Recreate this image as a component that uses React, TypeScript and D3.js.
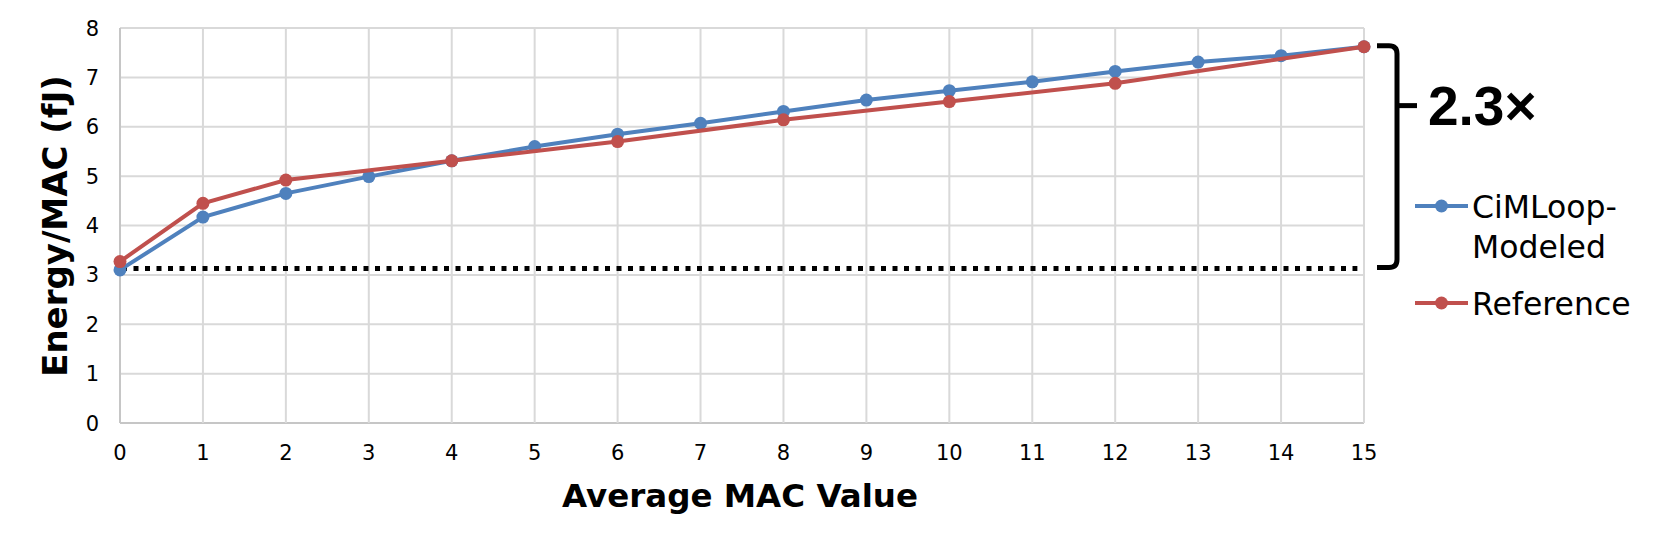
import React from "react";
import * as d3 from "d3";

const xTicks = [0, 1, 2, 3, 4, 5, 6, 7, 8, 9, 10, 11, 12, 13, 14, 15];
const yTicks = [0, 1, 2, 3, 4, 5, 6, 7, 8];

const cimloopX = [0, 1, 2, 3, 4, 5, 6, 7, 8, 9, 10, 11, 12, 13, 14, 15];
const cimloopY = [3.1, 4.17, 4.65, 4.99, 5.31, 5.6, 5.85, 6.07, 6.31, 6.54, 6.73, 6.91, 7.12, 7.31, 7.44, 7.62];

const referenceX = [0, 1, 2, 4, 6, 8, 10, 12, 15];
const referenceY = [3.27, 4.45, 4.92, 5.31, 5.7, 6.14, 6.51, 6.88, 7.62];

const baselineValue = 3.13;
const baselineSpan = [0, 14.92];
const ratioLabel = "2.3×";

const BLUE = "#4f81bd";
const RED = "#c0504d";
const FONT = "'DejaVu Sans', sans-serif";

export default function App() {
  const W = 1660;
  const H = 552;
  const x = d3.scaleLinear().domain([0, 15]).range([120, 1364]);
  const y = d3.scaleLinear().domain([0, 8]).range([423, 28]);

  const line = d3
    .line<[number, number]>()
    .x((d) => x(d[0]))
    .y((d) => y(d[1]));

  const blue: [number, number][] = cimloopX.map((v, i) => [v, cimloopY[i]]);
  const red: [number, number][] = referenceX.map((v, i) => [v, referenceY[i]]);

  const topY = y(d3.max(cimloopY) as number) - 1;
  const botY = y(baselineValue) - 1;
  const midY = topY + (botY - topY) * 0.27;
  const bracket = `M1377,${topY} L1389,${topY} Q1397,${topY} 1397,${topY + 8} L1397,${botY - 8} Q1397,${botY} 1389,${botY} L1377,${botY}`;
  const stub = `M1397,${midY} L1417,${midY}`;

  return (
    <svg
      width={W}
      height={H}
      style={{ position: "absolute", left: 0, top: 0, background: "#fff" }}
      fontFamily={FONT}
    >
      {/* grid */}
      {yTicks.map((t) => (
        <line key={"gy" + t} x1={x(0)} x2={x(15)} y1={y(t)} y2={y(t)} stroke={t === 0 ? "#c6c6c6" : "#d9d9d9"} strokeWidth={2} />
      ))}
      {xTicks.map((t) => (
        <line key={"gx" + t} x1={x(t)} x2={x(t)} y1={y(0)} y2={y(8)} stroke={t === 0 ? "#c6c6c6" : "#d9d9d9"} strokeWidth={2} />
      ))}

      {/* tick labels */}
      {yTicks.map((t) => (
        <text key={"ty" + t} x={99} y={y(t) + 7.5} textAnchor="end" fontSize={21} fill="#000">
          {t}
        </text>
      ))}
      {xTicks.map((t) => (
        <text key={"tx" + t} x={x(t)} y={460} textAnchor="middle" fontSize={21} fill="#000">
          {t}
        </text>
      ))}

      {/* baseline dotted */}
      <line
        x1={x(baselineSpan[0]) + 2}
        x2={x(baselineSpan[1])}
        y1={y(baselineValue)}
        y2={y(baselineValue)}
        stroke="#000"
        strokeWidth={5}
        strokeDasharray="5 6.5"
      />

      {/* series */}
      <path d={line(blue) as string} fill="none" stroke={BLUE} strokeWidth={4} />
      {blue.map((d, i) => (
        <circle key={"b" + i} cx={x(d[0])} cy={y(d[1])} r={6.5} fill={BLUE} />
      ))}
      <path d={line(red) as string} fill="none" stroke={RED} strokeWidth={4} />
      {red.map((d, i) => (
        <circle key={"r" + i} cx={x(d[0])} cy={y(d[1])} r={6.5} fill={RED} />
      ))}

      {/* axis titles */}
      <text x={740} y={507} textAnchor="middle" fontSize={32.5} fontWeight="bold" fill="#000">
        Average MAC Value
      </text>
      <text transform={`translate(67,226) rotate(-90)`} textAnchor="middle" fontSize={34} fontWeight="bold" fill="#000">
        Energy/MAC (fJ)
      </text>

      {/* bracket */}
      <path d={bracket} fill="none" stroke="#000" strokeWidth={5} />
      <path d={stub} fill="none" stroke="#000" strokeWidth={5} />
      <text x={1428} y={125} fontSize={55} fontWeight="bold" fill="#000" fontFamily="'Liberation Sans', Arial, sans-serif">
        {ratioLabel}
      </text>

      {/* legend */}
      <line x1={1415} x2={1468} y1={206} y2={206} stroke={BLUE} strokeWidth={4} />
      <circle cx={1441.5} cy={206} r={6.5} fill={BLUE} />
      <text x={1472} y={218} fontSize={31.5} fill="#000">CiMLoop-</text>
      <text x={1472} y={258} fontSize={31.5} fill="#000">Modeled</text>
      <line x1={1415} x2={1468} y1={303} y2={303} stroke={RED} strokeWidth={4} />
      <circle cx={1441.5} cy={303} r={6.5} fill={RED} />
      <text x={1472} y={315} fontSize={31.5} fill="#000">Reference</text>
    </svg>
  );
}
